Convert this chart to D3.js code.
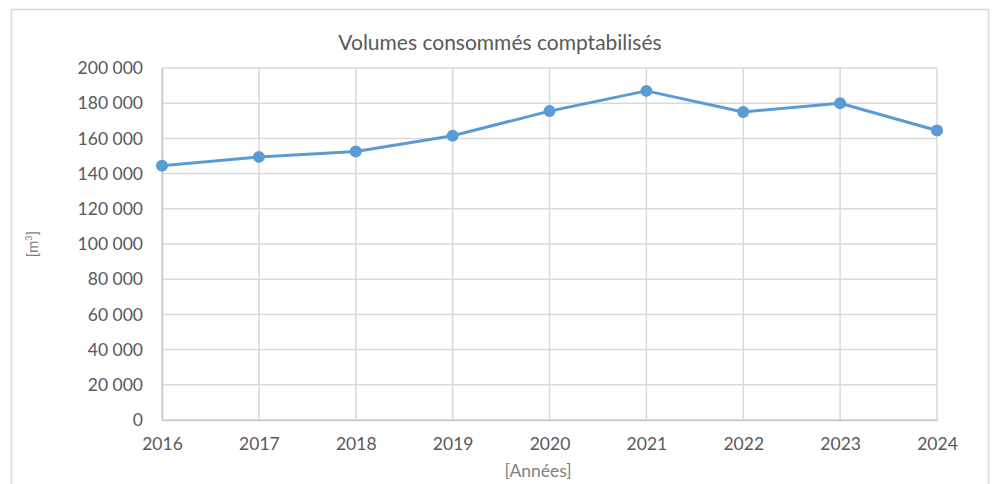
<!DOCTYPE html>
<html><head><meta charset="utf-8">
<script src="https://cdn.jsdelivr.net/npm/d3@7"></script>
<style>body{margin:0;background:#fff}svg{display:block}</style>
</head><body>
<svg id="c" width="994" height="484"></svg>
<script>
const years = ["2016","2017","2018","2019","2020","2021","2022","2023","2024"];
const volumes = [144500, 149500, 152500, 161500, 175500, 187000, 175000, 180000, 164500];
const yTicks = [0,20000,40000,60000,80000,100000,120000,140000,160000,180000,200000];
const title = "Volumes consommés comptabilisés";
const xTitle = "[Années]";

const svg = d3.select("#c");
const font = "Lato, 'Open Sans', sans-serif";
const txt = "#595959";
const m = {left:162, right:937, top:68, bottom:420};

svg.append("rect").attr("x",11.5).attr("y",9.5).attr("width",977).attr("height",490)
  .attr("fill","#fff").attr("stroke","#d9d9d9").attr("stroke-width",1.5);

const x = d3.scalePoint().domain(years).range([m.left,m.right]);
const y = d3.scaleLinear().domain([0,200000]).range([m.bottom,m.top]);
const fmt = v => d3.format(",")(v).replace(/,/g," ");

// gridlines
svg.append("g").selectAll("line").data(yTicks).join("line")
  .attr("x1",m.left).attr("x2",m.right).attr("y1",d=>y(d)).attr("y2",d=>y(d))
  .attr("stroke","#d9d9d9").attr("stroke-width",1.5);
svg.append("g").selectAll("line").data(years).join("line")
  .attr("x1",d=>x(d)).attr("x2",d=>x(d)).attr("y1",m.top).attr("y2",m.bottom)
  .attr("stroke","#d9d9d9").attr("stroke-width",1.5);

// axes
const ya = svg.append("g").attr("transform",`translate(${m.left},0)`)
  .call(d3.axisLeft(y).tickValues(yTicks).tickFormat(fmt).tickSize(0).tickPadding(19));
ya.select(".domain").attr("stroke","#c8c8c8").attr("stroke-width",1.5);
ya.selectAll("text").attr("font-family",font).attr("font-size",17.5).attr("fill",txt);

const xa = svg.append("g").attr("transform",`translate(0,${m.bottom})`)
  .call(d3.axisBottom(x).tickSize(0).tickPadding(18));
xa.select(".domain").attr("stroke","#c8c8c8").attr("stroke-width",1.5);
xa.selectAll("text").attr("font-family",font).attr("font-size",17.5).attr("fill",txt);

// line
svg.append("path").datum(volumes)
  .attr("d", d3.line().x((d,i)=>x(years[i])).y(d=>y(d)))
  .attr("fill","none").attr("stroke","#5b9bd5").attr("stroke-width",3).attr("stroke-linejoin","round");
svg.append("g").selectAll("circle").data(volumes).join("circle")
  .attr("cx",(d,i)=>x(years[i])).attr("cy",d=>y(d)).attr("r",6).attr("fill","#5b9bd5");

// titles
svg.append("text").attr("x",500).attr("y",50).attr("text-anchor","middle")
  .attr("font-family",font).attr("font-size",21).attr("fill",txt).text(title);
svg.append("text").attr("x",538).attr("y",477).attr("text-anchor","middle")
  .attr("font-family",font).attr("font-size",17.5).attr("fill","#7f7f7f").text(xTitle);
const yl = svg.append("text").attr("transform","translate(38,244) rotate(-90)").attr("text-anchor","middle")
  .attr("font-family",font).attr("font-size",15).attr("fill","#7f7f7f");
yl.append("tspan").text("[m");
yl.append("tspan").attr("font-size",9).attr("dy",-6).text("3");
yl.append("tspan").attr("dy",6).text("]");
</script>
</body></html>
